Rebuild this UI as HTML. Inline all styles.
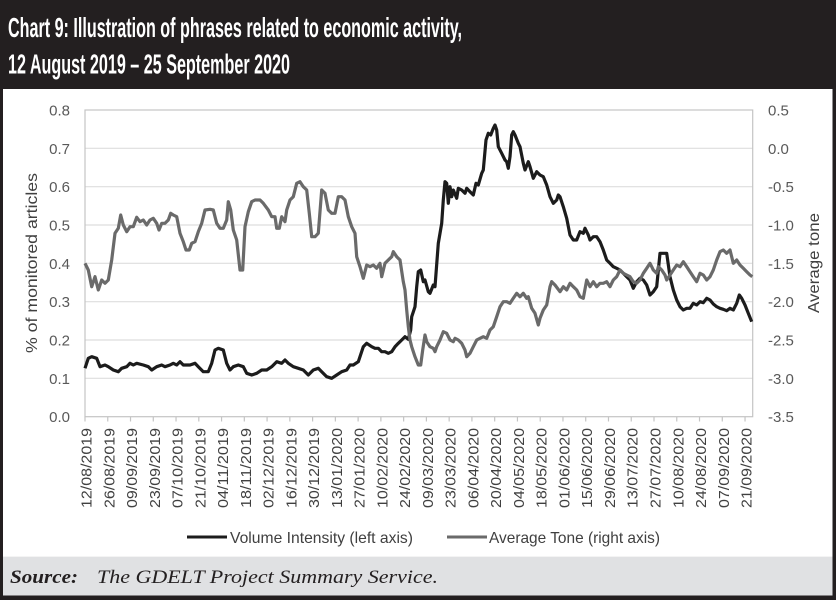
<!DOCTYPE html>
<html><head><meta charset="utf-8"><style>
html,body{margin:0;padding:0;background:#231f20;}
svg{display:block;}
</style></head><body>
<svg width="836" height="600" viewBox="0 0 836 600" xmlns="http://www.w3.org/2000/svg">
<rect x="0" y="0" width="836" height="600" fill="#231f20"/>
<text x="8" y="37" font-family="Liberation Sans, Arial, sans-serif" font-weight="bold" font-size="28" fill="#ffffff" textLength="454" lengthAdjust="spacingAndGlyphs">Chart 9: Illustration of phrases related to economic activity,</text>
<text x="8" y="73.5" font-family="Liberation Sans, Arial, sans-serif" font-weight="bold" font-size="28" fill="#ffffff" textLength="282" lengthAdjust="spacingAndGlyphs">12 August 2019 – 25 September 2020</text>
<rect x="3" y="89" width="829.5" height="467" fill="#ffffff"/>
<rect x="3" y="556" width="829.5" height="39.5" fill="#e0e1e3"/>
<line x1="3" y1="556.5" x2="832.5" y2="556.5" stroke="#f4f4f4" stroke-width="1"/>
<g stroke="#dedede" stroke-width="1.2">
<line x1="85" y1="148.3" x2="752.7" y2="148.3"/>
<line x1="85" y1="186.7" x2="752.7" y2="186.7"/>
<line x1="85" y1="225" x2="752.7" y2="225"/>
<line x1="85" y1="263.3" x2="752.7" y2="263.3"/>
<line x1="85" y1="301.7" x2="752.7" y2="301.7"/>
<line x1="85" y1="340" x2="752.7" y2="340"/>
<line x1="85" y1="378.3" x2="752.7" y2="378.3"/>
</g>
<rect x="85" y="110" width="667.7" height="306.7" fill="none" stroke="#c4c4c4" stroke-width="1.2"/>
<g stroke="#c4c4c4" stroke-width="1.2">
<line x1="85" y1="416.7" x2="85" y2="421.5"/><line x1="107.76" y1="416.7" x2="107.76" y2="421.5"/><line x1="130.52" y1="416.7" x2="130.52" y2="421.5"/><line x1="153.28" y1="416.7" x2="153.28" y2="421.5"/><line x1="176.04" y1="416.7" x2="176.04" y2="421.5"/><line x1="198.8" y1="416.7" x2="198.8" y2="421.5"/><line x1="221.56" y1="416.7" x2="221.56" y2="421.5"/><line x1="244.32" y1="416.7" x2="244.32" y2="421.5"/><line x1="267.08" y1="416.7" x2="267.08" y2="421.5"/><line x1="289.84" y1="416.7" x2="289.84" y2="421.5"/><line x1="312.6" y1="416.7" x2="312.6" y2="421.5"/><line x1="335.36" y1="416.7" x2="335.36" y2="421.5"/><line x1="358.12" y1="416.7" x2="358.12" y2="421.5"/><line x1="380.88" y1="416.7" x2="380.88" y2="421.5"/><line x1="403.64" y1="416.7" x2="403.64" y2="421.5"/><line x1="426.4" y1="416.7" x2="426.4" y2="421.5"/><line x1="449.16" y1="416.7" x2="449.16" y2="421.5"/><line x1="471.92" y1="416.7" x2="471.92" y2="421.5"/><line x1="494.68" y1="416.7" x2="494.68" y2="421.5"/><line x1="517.44" y1="416.7" x2="517.44" y2="421.5"/><line x1="540.2" y1="416.7" x2="540.2" y2="421.5"/><line x1="562.96" y1="416.7" x2="562.96" y2="421.5"/><line x1="585.72" y1="416.7" x2="585.72" y2="421.5"/><line x1="608.48" y1="416.7" x2="608.48" y2="421.5"/><line x1="631.24" y1="416.7" x2="631.24" y2="421.5"/><line x1="654" y1="416.7" x2="654" y2="421.5"/><line x1="676.76" y1="416.7" x2="676.76" y2="421.5"/><line x1="699.52" y1="416.7" x2="699.52" y2="421.5"/><line x1="722.28" y1="416.7" x2="722.28" y2="421.5"/><line x1="745.04" y1="416.7" x2="745.04" y2="421.5"/>
</g>
<g font-family="Liberation Sans, Arial, sans-serif" font-size="15" fill="#595959" text-anchor="end">
<text x="70" y="115.5">0.8</text>
<text x="70" y="153.8">0.7</text>
<text x="70" y="192.2">0.6</text>
<text x="70" y="230.5">0.5</text>
<text x="70" y="268.8">0.4</text>
<text x="70" y="307.2">0.3</text>
<text x="70" y="345.5">0.2</text>
<text x="70" y="383.8">0.1</text>
<text x="70" y="422.2">0.0</text>
</g>
<g font-family="Liberation Sans, Arial, sans-serif" font-size="15" fill="#595959" text-anchor="start">
<text x="768" y="115.5">0.5</text>
<text x="768" y="153.8">0.0</text>
<text x="768" y="192.2">-0.5</text>
<text x="768" y="230.5">-1.0</text>
<text x="768" y="268.8">-1.5</text>
<text x="768" y="307.2">-2.0</text>
<text x="768" y="345.5">-2.5</text>
<text x="768" y="383.8">-3.0</text>
<text x="768" y="422.2">-3.5</text>
</g>
<text transform="translate(37,263) rotate(-90)" font-family="Liberation Sans, Arial, sans-serif" font-size="16" fill="#404040" text-anchor="middle" textLength="180" lengthAdjust="spacingAndGlyphs">% of monitored articles</text>
<text transform="translate(819,263) rotate(-90)" font-family="Liberation Sans, Arial, sans-serif" font-size="16" fill="#404040" text-anchor="middle" textLength="100" lengthAdjust="spacingAndGlyphs">Average tone</text>
<g font-family="Liberation Sans, Arial, sans-serif" font-size="14.5" fill="#404040" text-anchor="end">
<text transform="translate(91.5,428) rotate(-90)" textLength="80" lengthAdjust="spacingAndGlyphs">12/08/2019</text>
<text transform="translate(114.26,428) rotate(-90)" textLength="80" lengthAdjust="spacingAndGlyphs">26/08/2019</text>
<text transform="translate(137.02,428) rotate(-90)" textLength="80" lengthAdjust="spacingAndGlyphs">09/09/2019</text>
<text transform="translate(159.78,428) rotate(-90)" textLength="80" lengthAdjust="spacingAndGlyphs">23/09/2019</text>
<text transform="translate(182.54,428) rotate(-90)" textLength="80" lengthAdjust="spacingAndGlyphs">07/10/2019</text>
<text transform="translate(205.3,428) rotate(-90)" textLength="80" lengthAdjust="spacingAndGlyphs">21/10/2019</text>
<text transform="translate(228.06,428) rotate(-90)" textLength="80" lengthAdjust="spacingAndGlyphs">04/11/2019</text>
<text transform="translate(250.82,428) rotate(-90)" textLength="80" lengthAdjust="spacingAndGlyphs">18/11/2019</text>
<text transform="translate(273.58,428) rotate(-90)" textLength="80" lengthAdjust="spacingAndGlyphs">02/12/2019</text>
<text transform="translate(296.34,428) rotate(-90)" textLength="80" lengthAdjust="spacingAndGlyphs">16/12/2019</text>
<text transform="translate(319.1,428) rotate(-90)" textLength="80" lengthAdjust="spacingAndGlyphs">30/12/2019</text>
<text transform="translate(341.86,428) rotate(-90)" textLength="80" lengthAdjust="spacingAndGlyphs">13/01/2020</text>
<text transform="translate(364.62,428) rotate(-90)" textLength="80" lengthAdjust="spacingAndGlyphs">27/01/2020</text>
<text transform="translate(387.38,428) rotate(-90)" textLength="80" lengthAdjust="spacingAndGlyphs">10/02/2020</text>
<text transform="translate(410.14,428) rotate(-90)" textLength="80" lengthAdjust="spacingAndGlyphs">24/02/2020</text>
<text transform="translate(432.9,428) rotate(-90)" textLength="80" lengthAdjust="spacingAndGlyphs">09/03/2020</text>
<text transform="translate(455.66,428) rotate(-90)" textLength="80" lengthAdjust="spacingAndGlyphs">23/03/2020</text>
<text transform="translate(478.42,428) rotate(-90)" textLength="80" lengthAdjust="spacingAndGlyphs">06/04/2020</text>
<text transform="translate(501.18,428) rotate(-90)" textLength="80" lengthAdjust="spacingAndGlyphs">20/04/2020</text>
<text transform="translate(523.94,428) rotate(-90)" textLength="80" lengthAdjust="spacingAndGlyphs">04/05/2020</text>
<text transform="translate(546.7,428) rotate(-90)" textLength="80" lengthAdjust="spacingAndGlyphs">18/05/2020</text>
<text transform="translate(569.46,428) rotate(-90)" textLength="80" lengthAdjust="spacingAndGlyphs">01/06/2020</text>
<text transform="translate(592.22,428) rotate(-90)" textLength="80" lengthAdjust="spacingAndGlyphs">15/06/2020</text>
<text transform="translate(614.98,428) rotate(-90)" textLength="80" lengthAdjust="spacingAndGlyphs">29/06/2020</text>
<text transform="translate(637.74,428) rotate(-90)" textLength="80" lengthAdjust="spacingAndGlyphs">13/07/2020</text>
<text transform="translate(660.5,428) rotate(-90)" textLength="80" lengthAdjust="spacingAndGlyphs">27/07/2020</text>
<text transform="translate(683.26,428) rotate(-90)" textLength="80" lengthAdjust="spacingAndGlyphs">10/08/2020</text>
<text transform="translate(706.02,428) rotate(-90)" textLength="80" lengthAdjust="spacingAndGlyphs">24/08/2020</text>
<text transform="translate(728.78,428) rotate(-90)" textLength="80" lengthAdjust="spacingAndGlyphs">07/09/2020</text>
<text transform="translate(751.54,428) rotate(-90)" textLength="80" lengthAdjust="spacingAndGlyphs">21/09/2020</text>
</g>
<polyline fill="none" stroke="#1c1c1c" stroke-width="3.2" stroke-linejoin="round" points="85,368.3 88.3,358.3 91.7,356.7 96.7,358.3 100,366.7 105,365 108.3,366.7 113.3,370 118.3,371.7 121.7,368.3 126.7,366.7 130,363.3 133.3,365 136.7,363.3 143.3,365 148.3,366.7 151.7,370 156.7,366.7 161.7,365 165,366.7 170,365 173.3,363.3 176.7,365 180,361.7 183.3,365 190,365 195,363.3 198.3,366.7 203.3,371.7 208.3,371.7 211.7,363.3 215,350 218.3,348.3 223.3,350 226.7,363.3 230,370 233.3,366.7 238.3,365 243.3,366.7 246.7,373.3 251.7,375 256.7,373.3 261.7,370 266.7,370 271.7,366.7 276.7,361.7 281.7,363.3 285,360 288.3,363.3 293.3,366.7 298.3,368.3 303.3,370 308.3,375 313.3,370 318.3,368.3 321.7,371.7 326.7,376.7 331.7,378.3 336.7,375 341.7,371.7 346.7,370 350,365 353.3,365 358.3,361.7 363.3,346.7 366.7,343.3 371.7,346.7 375,348.3 378.3,348.3 381.7,351.7 385,351.7 388.3,353.3 391.7,351.7 395,346.7 398.3,343.3 401.7,340 405,336.7 408.3,339.3 410.7,330 411.7,316.7 415,306.7 416.7,286.7 418.3,271.7 420.7,270 423.3,281.7 425,280 428.3,291.7 430,293.3 433.3,285 435,286.7 438.3,243.3 441.7,223.3 443.3,200 445,181.7 446.7,183.3 448.3,203.3 450,186.7 451.7,196.7 453.3,190 456.7,198.3 458.3,188.3 461.7,190 465,193.3 466.7,188.3 470,191.7 473.3,195 476,183.3 478.3,185 481.7,173.3 483.3,170 486,140 488.3,133.3 490.7,135 493.3,128.3 495,125 496.7,130 498.3,146.7 501.7,153.3 505,160 506.7,161.7 508.3,168.3 510,156.7 511.7,135 513.3,131.7 515,135 518.3,143.3 520,146.7 523.3,163.3 525,170 528.3,161.7 530,166.7 533.3,178.3 536.7,171.7 540,175 543.3,176.7 546.7,185 550,196.7 553.3,203.3 556.7,200 558.3,195 560,196.7 563.3,206.7 566.7,218.3 570,235 573.3,240 576.7,240 580,231.7 583.3,233.3 585,228.3 588.3,235 590,240 593.3,236.7 596.7,236.7 600,241.7 603.3,250 606.7,260 610,263.3 613.3,266.7 616.7,268.3 620,270 623.3,273.3 626.7,276.7 630,280 633.3,288.3 636.7,281.7 640,278.3 643.3,280 646.7,285 650,295 653.3,291.7 656.7,286.7 660,253.3 663.3,253.3 666.7,253.3 670,276.7 673.3,290 676.7,300 680,306.7 683.3,310 686.7,308.3 690,308.3 693.3,303.3 696.7,305 700,301.7 703.3,302.7 706.7,298.3 710,300 713.3,304 716.7,306.7 720,308.3 723.3,309.3 726.7,310.7 730,308.3 733.3,310 736.7,303.3 739.3,295 741.7,298.3 745,305 748.3,313.3 751.7,321.7"/>
<polyline fill="none" stroke="#6a6a6a" stroke-width="3.2" stroke-linejoin="round" points="85,263.3 88.3,270 91.7,286.7 95,276.7 98.3,290 101.7,280 105,283.3 108.3,280 111.7,260 115,233.3 118.3,228.3 120.7,215 123.3,225 126.7,231.7 130,226.7 133.3,226.7 136.7,217.3 140,221.7 143.3,220 146.7,225 150,220 153.3,218.3 156.7,223.3 159,230 161.7,223.3 165,223.3 168.3,220 170.7,213.3 173.3,215 176.7,216.7 180,233.3 183.3,241.7 186,250 189.3,250 191.7,243.3 195,241.7 198.3,231.7 201.7,223.3 205,210 210,209.3 213.3,210 216.7,223.3 220,228.3 223.3,228.3 226.7,220 228.3,201.7 230.7,210 233.3,230 236.7,240 240,270 242.7,270 245,226.7 248.3,211.7 251.7,201.7 255,200 260,200 263.3,203.3 268.3,210 271.7,216.7 275,216.7 276.7,228.3 279.3,228.3 281.7,216.7 285,221.7 286.7,210 290,200 293.3,196.7 296.7,183.3 300,181.7 303.3,186.7 306.7,190 309.3,213.3 311.7,236.7 315,236.7 318.3,233.3 321.7,190 325,193.3 328.3,210 331.7,213.3 335,213.3 338.3,196.7 341.7,196.7 345,200 348.3,216.7 351.7,226.7 355,233.3 356.7,256.7 360,266.7 363.3,278.3 366.7,265 370,266.7 373.3,265 376.7,268.3 380,263.3 381.7,276.7 385,263.3 388.3,260 391.7,256.7 393.3,251.7 396.7,256.7 400,260 403.3,281.7 405,290 406.7,310 408.3,326.7 410,340 411.7,346.7 415,356.7 418.3,365 420.7,365 422.7,350 425,335 426.7,341.7 430,346.7 433.3,348.3 435,351.7 436.7,346.7 440,340 443.3,331.7 446.7,333.3 450,340 453.3,341.7 455,338.3 458.3,340 461.7,343.3 465,350 466.7,356.7 470,353.3 473.3,346.7 476.7,340 480,338.3 483.3,336.7 486.7,338.3 490,330 493.3,326.7 496.7,316.7 500,306.7 503.3,301.7 506.7,301.7 510,303.3 513.3,298.3 516.7,293.3 520,296.7 523.3,293.3 526.7,298.3 528.3,296.7 531.7,308.3 535,313.3 538.3,325 540,318.3 543.3,310 546.7,305 550,286.7 551.7,281.7 555,285 560,291.7 563.3,286.7 566.7,290 570,283.3 573.3,286.7 576.7,290 580,296.7 583.3,298.3 586.7,280 590,286.7 593.3,281.7 596.7,286.7 600,283.3 603.3,283.3 606.7,281.7 610,286.7 613.3,280 616.7,276.7 620,270 623.3,273.3 626.7,275 630,276.7 633.3,281.7 636.7,283.3 640,280 643.3,273.3 646.7,268.3 650,263.3 651.7,266.7 653.3,270 656.7,273.3 658.3,266.7 661.7,270 665,275 666.7,280 670,275 673.3,270 676.7,265 680,266.7 683.3,261.7 686.7,266.7 690,271.7 693.3,276.7 696.7,281.7 700,273.3 703.3,275 706.7,280 710,276.7 713.3,270 716.7,260 720,251.7 723.3,250 726.7,253.3 730,250 733.3,263.3 736.7,260 740,265 743.3,268.3 746.7,271.7 750,275 752.3,276.7"/>
<line x1="187" y1="537" x2="227" y2="537" stroke="#1c1c1c" stroke-width="3"/>
<text x="230" y="543" font-family="Liberation Sans, Arial, sans-serif" font-size="16" fill="#404040" textLength="183" lengthAdjust="spacingAndGlyphs">Volume Intensity (left axis)</text>
<line x1="447" y1="537" x2="487" y2="537" stroke="#6a6a6a" stroke-width="3"/>
<text x="489" y="543" font-family="Liberation Sans, Arial, sans-serif" font-size="16" fill="#404040" textLength="171" lengthAdjust="spacingAndGlyphs">Average Tone (right axis)</text>
<text x="10" y="583" font-family="Liberation Serif, serif" font-style="italic" font-weight="bold" font-size="19" fill="#231f20" textLength="68" lengthAdjust="spacingAndGlyphs">Source:</text>
<text x="97" y="583" font-family="Liberation Serif, serif" font-style="italic" font-size="19" fill="#231f20" textLength="341" lengthAdjust="spacingAndGlyphs">The GDELT Project Summary Service.</text>
</svg>
</body></html>
